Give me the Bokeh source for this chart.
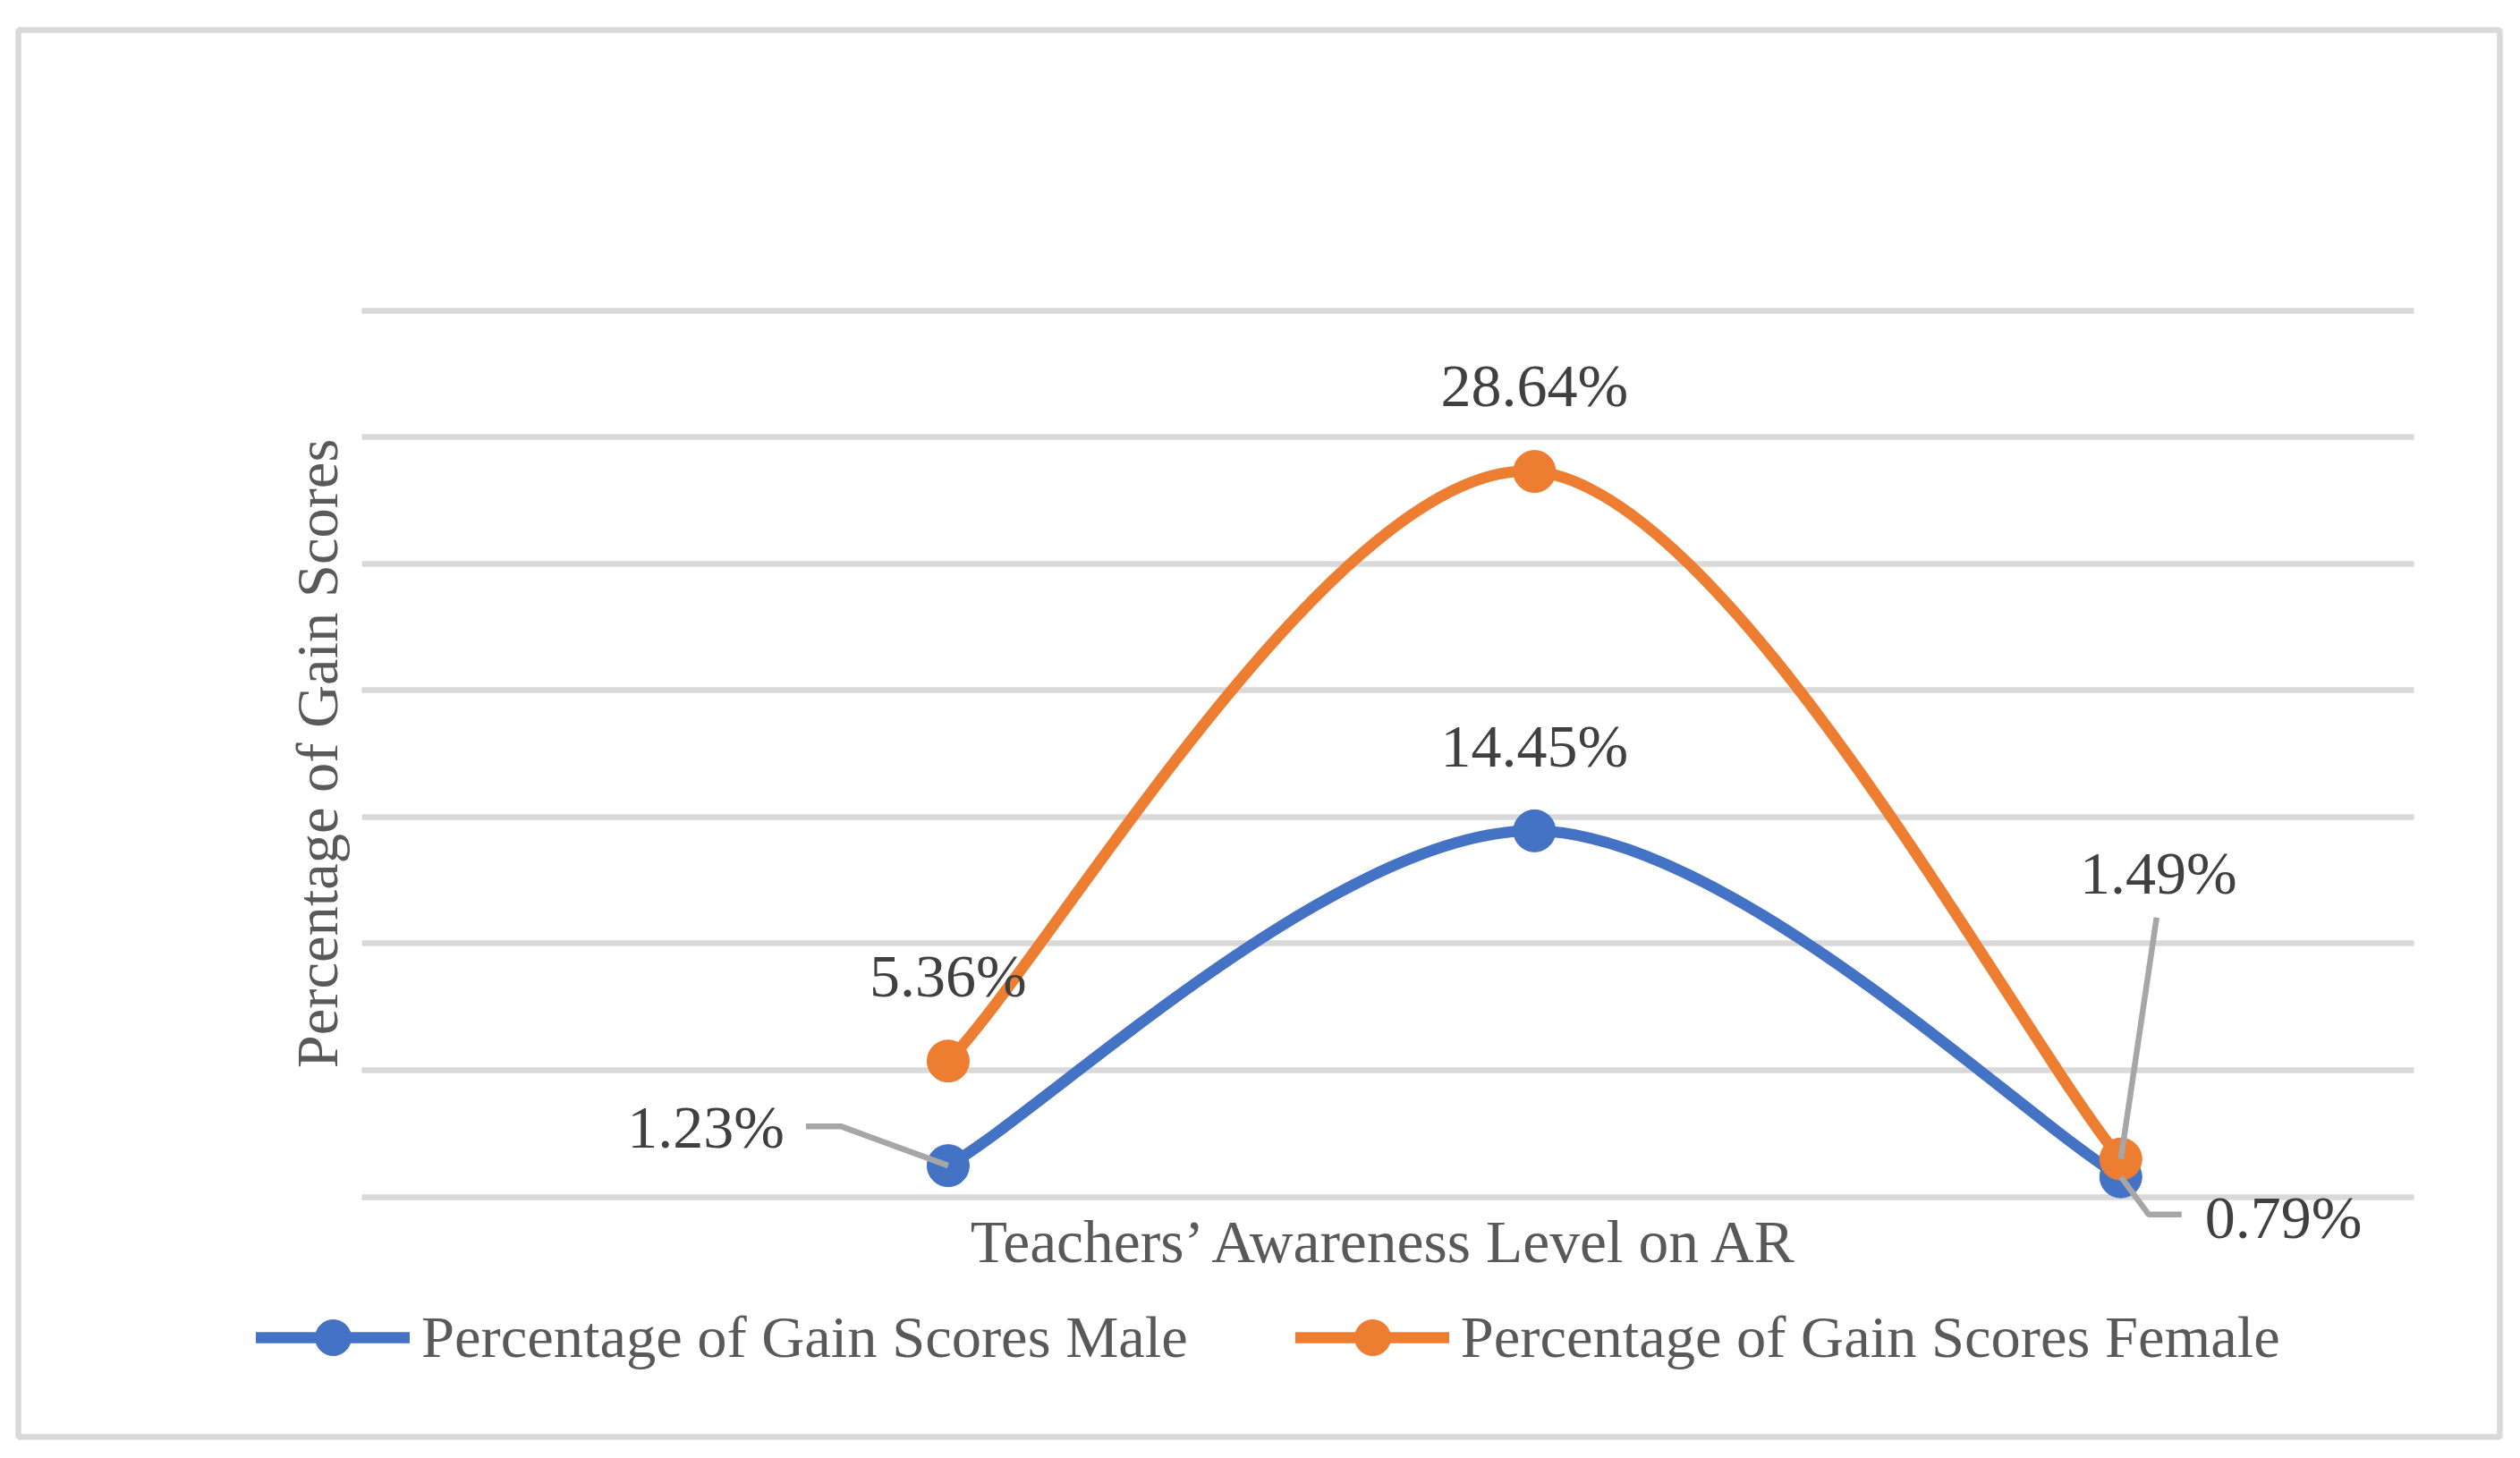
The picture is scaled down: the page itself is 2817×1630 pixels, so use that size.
import math
from bokeh.plotting import figure
from bokeh.models import (ColumnDataSource, LabelSet, Label, Legend, LegendItem, FixedTicker,
                          Range1d)
from bokeh.embed import file_html
from bokeh.resources import INLINE

# ---------------- data ----------------
levels = [1, 2, 3]
male = [1.23, 14.45, 0.79]
female = [5.36, 28.64, 1.49]
series_names = ["Percentage of Gain Scores Male", "Percentage of Gain Scores Female"]
y_ticks = [0, 5, 10, 15, 20, 25, 30, 35]
x_title = "Teachers\u2019 Awareness Level on AR"
y_title = "Percentage of Gain Scores"

# ---------------- style ----------------
BLUE = "#4472C4"
ORANGE = "#ED7D31"
GRID = "#D9D9D9"
LEADER = "#A6A6A6"
LABEL_C = "#404040"
TITLE_C = "#595959"
FONT = "Liberation Serif"

# chart box (frame = outer chart border) and inner plot area, in page pixels
W, H = 2804, 1616
FL, FT, FR, FB = 20, 33, 2794, 1606
PL, PR, PT, PB = 404, 2698, 346.5, 1337.5
XA, XB = 0.0, 3.5            # plot-area x extent in data units
YA, YB = y_ticks[0], y_ticks[-1]
pxx = (PR - PL) / (XB - XA)
pxy = (PB - PT) / (YB - YA)
x_range = Range1d(XA - (PL - FL) / pxx, XB + (FR - PR) / pxx)
y_range = Range1d(YA - (FB - PB) / pxy, YB + (PT - FT) / pxy)

p = figure(width=W, height=H, output_backend="svg", toolbar_location=None,
           x_range=x_range, y_range=y_range,
           min_border_left=FL, min_border_right=W - FR, min_border_top=FT, min_border_bottom=H - FB,
           background_fill_color="white", border_fill_color="white")
p.outline_line_color = GRID
p.outline_line_width = 6.5
p.xaxis.visible = False
p.yaxis.visible = False
p.xgrid.grid_line_color = None
p.ygrid.ticker = FixedTicker(ticks=y_ticks)
p.ygrid.grid_line_color = GRID
p.ygrid.grid_line_width = 6.5
p.ygrid.cross_bounds = (XA, XB)


def smooth_segments(xs, ys):
    n = len(xs)
    d = dict(x0=[], y0=[], x1=[], y1=[], cx0=[], cy0=[], cx1=[], cy1=[])
    for i in range(n - 1):
        a = i - 1 if i > 0 else i
        b = i + 2 if i + 2 < n else i + 1
        d["x0"].append(xs[i]); d["y0"].append(ys[i])
        d["x1"].append(xs[i + 1]); d["y1"].append(ys[i + 1])
        d["cx0"].append(xs[i] + (xs[i + 1] - xs[a]) / 6)
        d["cy0"].append(ys[i] + (ys[i + 1] - ys[a]) / 6)
        d["cx1"].append(xs[i + 1] - (xs[b] - xs[i]) / 6)
        d["cy1"].append(ys[i + 1] - (ys[b] - ys[i]) / 6)
    return ColumnDataSource(d)


items = []
for vals, col, name in ((male, BLUE, series_names[0]), (female, ORANGE, series_names[1])):
    cr = p.bezier(x0="x0", y0="y0", x1="x1", y1="y1", cx0="cx0", cy0="cy0", cx1="cx1", cy1="cy1",
                  source=smooth_segments(levels, vals), line_color=col, line_width=12.5,
                  line_cap="round", line_join="round")
    sr = p.scatter(levels, vals, size=47, fill_color=col, line_color=col, line_width=1)
    items.append(LegendItem(label=name, renderers=[cr, sr]))

# ---------------- leader lines (pixel offsets from the point) ----------------
leader_pts = [
    (levels[0], male[0], [(-159, -44), (-120, -44), (0, 0)]),
    (levels[2], female[2], [(40, -270), (0, 0)]),
    (levels[2], male[2], [(0, 0), (31, 42), (68, 42)]),
]
lx, ly = [], []
for xv, yv, offs in leader_pts:
    lx.append([xv + dx / pxx for dx, dy in offs])
    ly.append([yv - dy / pxy for dx, dy in offs])
p.multi_line(lx, ly, line_color=LEADER, line_width=6.5)

# ---------------- data labels ----------------
label_specs = [
    (levels[0], male[0], "right", -183, 20),
    (levels[1], male[1], "center", 0, 72),
    (levels[2], male[2], "left", 94, -68),
    (levels[0], female[0], "center", 0, 72),
    (levels[1], female[1], "center", 0, 73),
    (levels[2], female[2], "center", 42, 297),
]
for xv, yv, al, dx, dy in label_specs:
    src = ColumnDataSource(dict(x=[xv], y=[yv], t=[f"{yv:.2f}%"]))
    p.add_layout(LabelSet(x="x", y="y", text="t", source=src, x_offset=dx, y_offset=dy,
                          text_align=al, text_baseline="alphabetic", text_font=FONT,
                          text_font_size="68px", text_color=LABEL_C))

# ---------------- axis titles ----------------
p.add_layout(Label(x=(XA + XB) / 2, y=YA - (1388 - PB) / pxy, text=x_title,
                   text_align="center", text_baseline="alphabetic", text_font=FONT,
                   text_font_size="67.5px", text_color=TITLE_C))
p.add_layout(Label(x=XA - (PL - 354) / pxx, y=(YA + YB) / 2, text=y_title, angle=math.pi / 2,
                   text_align="center", text_baseline="alphabetic", text_font=FONT,
                   text_font_size="66.5px", text_color=TITLE_C))

# ---------------- legend ----------------
legend = Legend(items=items, orientation="horizontal", location=(286 - FL, FB - 1545),
                glyph_width=172, glyph_height=100, label_standoff=13, spacing=120,
                padding=0, margin=0, border_line_color=None, background_fill_alpha=0,
                label_text_font=FONT, label_text_font_size="66.5px", label_text_color=TITLE_C,
                label_text_baseline="middle")
p.add_layout(legend, "center")

open("out.html", "w").write(file_html(p, INLINE))
